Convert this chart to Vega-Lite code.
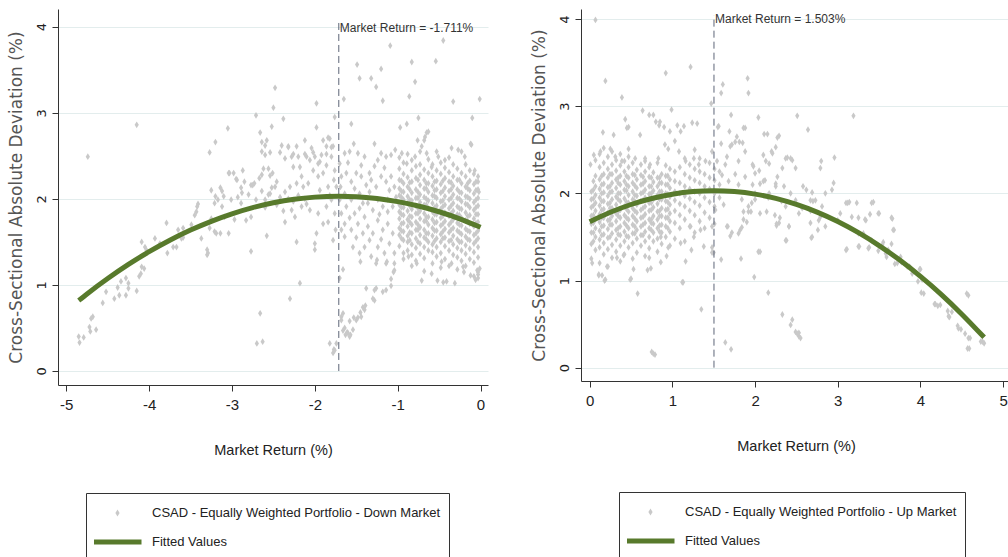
{
"$schema": "https://vega.github.io/schema/vega-lite/v6.json",
"background": "white",
"padding": {"left": 7, "top": 9, "right": 0, "bottom": 0},
"spacing": 39,
"config": {
"view": {"stroke": null},
"axis": {"domainColor": "#333", "tickColor": "#333", "tickSize": 6, "labelColor": "#222", "titleColor": "#222", "titleFontWeight": "normal", "gridColor": "#e3eded", "labelFlush": false},
"axisX": {"labelFont": "Liberation Sans", "labelFontSize": 15, "titleFont": "Liberation Sans", "titleFontSize": 14.5, "labelPadding": 6, "titlePadding": 31, "grid": false},
"axisY": {"labelFont": "DejaVu Sans", "labelFontSize": 13, "labelAngle": 270, "labelAlign": "center", "labelBaseline": "bottom", "labelPadding": 4, "titleFont": "DejaVu Sans", "titleFontSize": 17, "titleColor": "#555", "titlePadding": 10, "grid": true},
"legend": {"orient": "none", "direction": "vertical", "labelFont": "Liberation Sans", "labelFontSize": 13, "labelColor": "#222", "labelLimit": 500, "clipHeight": 24, "padding": 8}
},
"datasets": {
"downfit": [{"ret":-4.85,"csad":0.819},{"ret":-4.75,"csad":0.895},{"ret":-4.5,"csad":1.074},{"ret":-4.25,"csad":1.238},{"ret":-4.0,"csad":1.386},{"ret":-3.75,"csad":1.519},{"ret":-3.5,"csad":1.637},{"ret":-3.25,"csad":1.739},{"ret":-3.0,"csad":1.826},{"ret":-2.75,"csad":1.898},{"ret":-2.5,"csad":1.954},{"ret":-2.25,"csad":1.995},{"ret":-2.0,"csad":2.02},{"ret":-1.711,"csad":2.03},{"ret":-1.5,"csad":2.025},{"ret":-1.25,"csad":2.004},{"ret":-1.0,"csad":1.968},{"ret":-0.75,"csad":1.917},{"ret":-0.5,"csad":1.85},{"ret":-0.25,"csad":1.768},{"ret":0,"csad":1.67}],
"upfit": [{"ret":0,"csad":1.674},{"ret":0.25,"csad":1.783},{"ret":0.5,"csad":1.872},{"ret":0.75,"csad":1.941},{"ret":1.0,"csad":1.99},{"ret":1.25,"csad":2.02},{"ret":1.503,"csad":2.03},{"ret":1.75,"csad":2.02},{"ret":2.0,"csad":1.991},{"ret":2.25,"csad":1.942},{"ret":2.5,"csad":1.873},{"ret":2.75,"csad":1.785},{"ret":3.0,"csad":1.677},{"ret":3.25,"csad":1.549},{"ret":3.5,"csad":1.401},{"ret":3.75,"csad":1.234},{"ret":4.0,"csad":1.047},{"ret":4.25,"csad":0.841},{"ret":4.5,"csad":0.614},{"ret":4.77,"csad":0.348}],
"down": [
{"ret":-4.85,"csad":0.4},{"ret":-4.84,"csad":0.33},{"ret":-4.79,"csad":0.39},{"ret":-4.72,"csad":0.51},{"ret":-4.7,"csad":0.61},{"ret":-4.68,"csad":0.63},{"ret":-4.71,"csad":0.46},{"ret":-4.64,"csad":0.48},{"ret":-4.56,"csad":0.79},{"ret":-4.52,"csad":0.92},{"ret":-4.42,"csad":0.84},{"ret":-4.38,"csad":0.97},{"ret":-4.36,"csad":0.88},{"ret":-4.34,"csad":1.04},{"ret":-4.28,"csad":1.08},{"ret":-4.25,"csad":0.96},{"ret":-4.25,"csad":1.02},{"ret":-4.15,"csad":0.93},{"ret":-4.12,"csad":1.1},{"ret":-4.1,"csad":1.13},{"ret":-4.06,"csad":1.19},{"ret":-4.05,"csad":1.44},{"ret":-4.09,"csad":1.5},{"ret":-4.03,"csad":1.4},{"ret":-3.93,"csad":1.54},{"ret":-3.87,"csad":1.48},{"ret":-3.79,"csad":1.72},{"ret":-3.78,"csad":1.37},{"ret":-3.71,"csad":1.44},{"ret":-3.67,"csad":1.44},{"ret":-3.61,"csad":1.54},{"ret":-3.59,"csad":1.66},{"ret":-3.49,"csad":1.7},{"ret":-3.45,"csad":1.81},{"ret":-3.43,"csad":1.85},{"ret":-3.42,"csad":1.91},{"ret":-3.37,"csad":1.54},{"ret":-3.3,"csad":1.41},{"ret":-3.3,"csad":1.35},{"ret":-3.27,"csad":1.66},{"ret":-3.25,"csad":1.77},{"ret":-3.21,"csad":1.62},{"ret":-3.14,"csad":1.6},{"ret":-3.04,"csad":1.6},{"ret":-2.97,"csad":1.76},{"ret":-2.83,"csad":1.75},{"ret":-2.77,"csad":1.39},{"ret":-2.7,"csad":0.32},{"ret":-2.63,"csad":0.34},{"ret":-2.66,"csad":0.67},{"ret":-2.58,"csad":1.57},{"ret":-2.6,"csad":1.9},{"ret":-4.28,"csad":0.88},{"ret":-4.09,"csad":1.21},{"ret":-3.65,"csad":1.64},{"ret":-3.59,"csad":1.55},{"ret":-3.41,"csad":1.94},{"ret":-3.29,"csad":1.37},{"ret":-3.19,"csad":1.6},{"ret":-3.04,"csad":2.3},{"ret":-2.98,"csad":2.3},{"ret":-2.94,"csad":2.22},{"ret":-2.87,"csad":2.33},{"ret":-2.85,"csad":2.2},{"ret":-2.77,"csad":2.16},{"ret":-2.73,"csad":2.18},{"ret":-2.64,"csad":2.28},{"ret":-2.62,"csad":2.35},{"ret":-2.71,"csad":1.99},{"ret":-2.77,"csad":1.79},{"ret":-3.25,"csad":2.1},{"ret":-3.17,"csad":1.99},{"ret":-3.21,"csad":1.95},{"ret":-3.12,"csad":1.91},{"ret":-3.01,"csad":1.99},{"ret":-2.93,"csad":2.02},{"ret":-2.89,"csad":1.95},{"ret":-3.09,"csad":1.79},
{"ret":-4.74,"csad":2.49},{"ret":-4.15,"csad":2.86},{"ret":-3.27,"csad":2.54},{"ret":-3.2,"csad":2.66},{"ret":-3.05,"csad":2.82},{"ret":-2.71,"csad":2.97},{"ret":-2.66,"csad":2.77},{"ret":-2.64,"csad":2.66},{"ret":-2.6,"csad":2.62},{"ret":-2.64,"csad":2.55},{"ret":-2.54,"csad":2.54},{"ret":-2.52,"csad":2.84},{"ret":-3.03,"csad":2.3},{"ret":-2.95,"csad":2.23},{"ret":-2.89,"csad":2.13},{"ret":-2.75,"csad":2.16},{"ret":-2.67,"csad":2.24},{"ret":-2.54,"csad":2.27},{"ret":-2.64,"csad":2.09},{"ret":-3.14,"csad":2.13},{"ret":-3.12,"csad":2.09},{"ret":-3.1,"csad":2.03},{"ret":-3.2,"csad":2.03},{"ret":-2.8,"csad":2.05},{"ret":-2.88,"csad":2.07},{"ret":-2.52,"csad":2.13},{"ret":-2.56,"csad":2.05},
{"ret":-0.45,"csad":3.84},{"ret":-1.09,"csad":3.78},{"ret":-1.49,"csad":3.56},{"ret":-1.2,"csad":3.51},{"ret":-0.83,"csad":3.59},{"ret":-0.54,"csad":3.6},{"ret":-1.46,"csad":3.4},{"ret":-1.32,"csad":3.4},{"ret":-0.79,"csad":3.36},{"ret":-1.26,"csad":3.3},{"ret":-0.86,"csad":3.19},{"ret":-0.33,"csad":3.13},{"ret":-0.01,"csad":3.16},{"ret":-1.18,"csad":3.14},{"ret":-1.65,"csad":3.16},{"ret":-2.48,"csad":3.29},{"ret":-2.5,"csad":3.06},{"ret":-1.98,"csad":3.11},{"ret":-1.76,"csad":2.95},{"ret":-1.56,"csad":2.87},{"ret":-2.38,"csad":2.93},{"ret":-0.97,"csad":2.83},{"ret":-0.89,"csad":2.87},{"ret":-0.75,"csad":2.94},{"ret":-0.1,"csad":2.94},{"ret":-0.65,"csad":2.77},{"ret":-0.68,"csad":2.68},{"ret":-0.12,"csad":2.64},{"ret":-0.63,"csad":2.78},{"ret":-0.67,"csad":2.72},{"ret":-0.76,"csad":2.68},{"ret":-1.98,"csad":2.83},
{"ret":-2.58,"csad":2.68},{"ret":-2.6,"csad":2.51},{"ret":-2.56,"csad":2.35},{"ret":-2.51,"csad":2.3},{"ret":-2.46,"csad":2.2},{"ret":-2.4,"csad":2.62},{"ret":-2.36,"csad":2.47},{"ret":-2.32,"csad":2.61},{"ret":-2.28,"csad":2.49},{"ret":-2.26,"csad":2.37},{"ret":-2.22,"csad":2.61},{"ret":-2.2,"csad":2.49},{"ret":-2.18,"csad":2.37},{"ret":-2.16,"csad":2.26},{"ret":-2.12,"csad":2.68},{"ret":-2.1,"csad":2.49},{"ret":-2.04,"csad":2.59},{"ret":-2.0,"csad":2.49},{"ret":-1.96,"csad":2.41},{"ret":-1.92,"csad":2.51},{"ret":-1.86,"csad":2.61},{"ret":-1.82,"csad":2.7},{"ret":-1.78,"csad":2.61},{"ret":-1.8,"csad":2.49},{"ret":-1.86,"csad":2.39},{"ret":-1.9,"csad":2.3},{"ret":-1.96,"csad":2.26},{"ret":-2.02,"csad":2.33},{"ret":-2.08,"csad":2.18},{"ret":-2.14,"csad":2.14},{"ret":-2.22,"csad":2.18},{"ret":-2.3,"csad":2.14},{"ret":-2.36,"csad":2.08},{"ret":-2.42,"csad":2.02},{"ret":-2.48,"csad":2.14},{"ret":-2.54,"csad":2.06},{"ret":-2.6,"csad":1.99},{"ret":-2.36,"csad":1.73},{"ret":-2.22,"csad":1.5},{"ret":-2.18,"csad":1.02},{"ret":-2.3,"csad":0.84},{"ret":-2.0,"csad":1.48},{"ret":-2.0,"csad":1.41},{"ret":-1.98,"csad":1.6},{"ret":-1.96,"csad":1.83},{"ret":-2.06,"csad":1.87},{"ret":-2.16,"csad":1.91},{"ret":-2.24,"csad":1.79},{"ret":-2.28,"csad":1.87},{"ret":-1.9,"csad":1.71},{"ret":-1.86,"csad":1.91},{"ret":-1.8,"csad":1.99},{"ret":-1.76,"csad":1.83},{"ret":-1.84,"csad":1.73},{"ret":-1.78,"csad":1.52},{"ret":-1.75,"csad":1.64},{"ret":-1.94,"csad":2.1},{"ret":-1.84,"csad":2.14},{"ret":-1.77,"csad":2.22},{"ret":-1.76,"csad":2.33},{"ret":-1.82,"csad":2.04},{"ret":-2.42,"csad":2.54},{"ret":-2.32,"csad":2.6},{"ret":-2.26,"csad":2.52},{"ret":-2.12,"csad":2.52},{"ret":-2.06,"csad":2.45},{"ret":-2.02,"csad":2.54},{"ret":-1.94,"csad":2.43},{"ret":-1.86,"csad":2.52},{"ret":-1.8,"csad":2.6},{"ret":-1.84,"csad":2.71},{"ret":-1.9,"csad":2.68},{"ret":-2.46,"csad":1.93},{"ret":-2.38,"csad":1.86},{"ret":-2.32,"csad":2.0},{"ret":-2.26,"csad":1.97},{"ret":-2.2,"csad":2.04},{"ret":-2.12,"csad":2.0},{"ret":-2.1,"csad":1.94},
{"ret":-1.7,"csad":2.41},{"ret":-1.64,"csad":2.53},{"ret":-1.58,"csad":2.55},{"ret":-1.53,"csad":2.64},{"ret":-1.48,"csad":2.53},{"ret":-1.44,"csad":2.39},{"ret":-1.4,"csad":2.49},{"ret":-1.34,"csad":2.3},{"ret":-1.28,"csad":2.64},{"ret":-1.24,"csad":2.45},{"ret":-1.2,"csad":2.53},{"ret":-1.14,"csad":2.49},{"ret":-1.08,"csad":2.51},{"ret":-1.03,"csad":2.57},{"ret":-1.68,"csad":2.26},{"ret":-1.62,"csad":2.3},{"ret":-1.56,"csad":2.2},{"ret":-1.5,"csad":2.3},{"ret":-1.44,"csad":2.26},{"ret":-1.38,"csad":2.16},{"ret":-1.32,"csad":2.22},{"ret":-1.26,"csad":2.14},{"ret":-1.2,"csad":2.26},{"ret":-1.14,"csad":2.2},{"ret":-1.08,"csad":2.26},{"ret":-1.04,"csad":2.14},{"ret":-1.69,"csad":2.14},{"ret":-1.64,"csad":2.06},{"ret":-1.56,"csad":1.99},{"ret":-1.62,"csad":1.91},{"ret":-1.68,"csad":1.83},{"ret":-1.52,"csad":1.83},{"ret":-1.46,"csad":1.89},{"ret":-1.4,"csad":1.79},{"ret":-1.36,"csad":1.95},{"ret":-1.3,"csad":1.87},{"ret":-1.24,"csad":1.99},{"ret":-1.18,"csad":1.91},{"ret":-1.12,"csad":1.99},{"ret":-1.06,"csad":1.91},{"ret":-1.02,"csad":2.02},{"ret":-1.64,"csad":1.71},{"ret":-1.56,"csad":1.64},{"ret":-1.48,"csad":1.71},{"ret":-1.42,"csad":1.6},{"ret":-1.36,"csad":1.68},{"ret":-1.3,"csad":1.6},{"ret":-1.24,"csad":1.75},{"ret":-1.18,"csad":1.64},{"ret":-1.12,"csad":1.71},{"ret":-1.06,"csad":1.6},{"ret":-1.64,"csad":1.56},{"ret":-1.68,"csad":1.64},{"ret":-1.54,"csad":1.44},{"ret":-1.46,"csad":1.37},{"ret":-1.4,"csad":1.44},{"ret":-1.32,"csad":1.33},{"ret":-1.24,"csad":1.44},{"ret":-1.16,"csad":1.37},{"ret":-1.1,"csad":1.48},{"ret":-1.04,"csad":1.37},{"ret":-1.26,"csad":1.25},{"ret":-1.14,"csad":1.25},{"ret":-1.04,"csad":1.25},{"ret":-1.7,"csad":1.99},{"ret":-1.74,"csad":2.14},{"ret":-1.6,"csad":2.42},{"ret":-1.52,"csad":2.12},{"ret":-1.46,"csad":2.06},{"ret":-1.34,"csad":2.08},{"ret":-1.28,"csad":2.38},{"ret":-1.16,"csad":2.36},{"ret":-1.1,"csad":2.1},{"ret":-1.5,"csad":1.55},{"ret":-1.34,"csad":1.52},{"ret":-1.2,"csad":1.53},{"ret":-1.12,"csad":1.85},{"ret":-1.58,"csad":1.78},{"ret":-1.42,"csad":1.95},{"ret":-1.22,"csad":1.82},
{"ret":-1.82,"csad":0.32},{"ret":-1.78,"csad":0.21},{"ret":-1.77,"csad":0.25},{"ret":-1.68,"csad":0.63},{"ret":-1.66,"csad":0.47},{"ret":-1.63,"csad":0.42},{"ret":-1.61,"csad":0.45},{"ret":-1.57,"csad":0.42},{"ret":-1.58,"csad":0.58},{"ret":-1.53,"csad":0.62},{"ret":-1.48,"csad":0.62},{"ret":-1.45,"csad":0.68},{"ret":-1.42,"csad":0.74},{"ret":-1.39,"csad":0.76},{"ret":-1.38,"csad":0.96},{"ret":-1.3,"csad":0.84},{"ret":-1.28,"csad":0.94},{"ret":-1.26,"csad":0.96},{"ret":-1.18,"csad":0.92},{"ret":-1.08,"csad":0.99},{"ret":-1.08,"csad":1.07},{"ret":-1.05,"csad":1.15},{"ret":-1.66,"csad":1.18},{"ret":-1.7,"csad":1.08},{"ret":-0.71,"csad":1.05},{"ret":-0.52,"csad":1.05},{"ret":-0.45,"csad":1.03},{"ret":-0.06,"csad":1.06},{"ret":-0.03,"csad":1.12},{"ret":-0.2,"csad":1.15},{"ret":-0.01,"csad":1.19},{"ret":-1.45,"csad":1.27},{"ret":-1.25,"csad":1.29},{"ret":-1.13,"csad":1.27},{"ret":-1.74,"csad":0.32},{"ret":-1.76,"csad":0.24},{"ret":-1.68,"csad":0.59},{"ret":-1.64,"csad":0.5},{"ret":-1.6,"csad":0.44},{"ret":-1.54,"csad":0.48},{"ret":-1.5,"csad":0.59},{"ret":-1.44,"csad":0.63},{"ret":-1.4,"csad":0.71},{"ret":-1.28,"csad":0.82},{"ret":-1.14,"csad":0.94},{"ret":-1.04,"csad":1.17},{"ret":-1.66,"csad":0.67},{"ret":-1.58,"csad":0.4},
{"ret":-0.03,"csad":1.08},{"ret":-0.04,"csad":1.17},{"ret":-0.12,"csad":1.11},{"ret":-0.21,"csad":1.21},{"ret":-0.31,"csad":1.02},{"ret":-0.41,"csad":1.04},{"ret":-0.59,"csad":1.13},{"ret":-0.47,"csad":1.27},{"ret":-0.35,"csad":1.25},{"ret":-0.77,"csad":1.25},{"ret":-0.87,"csad":1.33},{"ret":-0.93,"csad":1.37},{"ret":-0.11,"csad":2.63},{"ret":-0.19,"csad":2.49},{"ret":-0.27,"csad":2.57},{"ret":-0.35,"csad":2.59},{"ret":-0.43,"csad":2.45},{"ret":-0.51,"csad":2.49},{"ret":-0.59,"csad":2.37},{"ret":-0.65,"csad":2.53},{"ret":-0.71,"csad":2.61},{"ret":-0.79,"csad":2.49},{"ret":-0.89,"csad":2.41},{"ret":-0.95,"csad":2.53},{"ret":-0.03,"csad":2.26},{"ret":-0.07,"csad":2.33},{"ret":-0.02,"csad":2.08},
{"ret":-0.98,"csad":1.45},{"ret":-0.98,"csad":1.58},{"ret":-0.98,"csad":1.66},{"ret":-0.98,"csad":1.77},{"ret":-0.98,"csad":1.85},{"ret":-0.98,"csad":1.93},{"ret":-0.98,"csad":2.04},{"ret":-0.98,"csad":2.12},{"ret":-0.98,"csad":2.22},{"ret":-0.98,"csad":2.35},{"ret":-0.98,"csad":2.48},
{"ret":-0.93,"csad":1.3},{"ret":-0.93,"csad":1.52},{"ret":-0.93,"csad":1.62},{"ret":-0.93,"csad":1.72},{"ret":-0.93,"csad":1.81},{"ret":-0.93,"csad":1.9},{"ret":-0.93,"csad":1.99},{"ret":-0.93,"csad":2.08},{"ret":-0.93,"csad":2.18},{"ret":-0.93,"csad":2.29},{"ret":-0.93,"csad":2.42},
{"ret":-0.88,"csad":1.4},{"ret":-0.88,"csad":1.5},{"ret":-0.88,"csad":1.57},{"ret":-0.88,"csad":1.68},{"ret":-0.88,"csad":1.76},{"ret":-0.88,"csad":1.86},{"ret":-0.88,"csad":1.95},{"ret":-0.88,"csad":2.03},{"ret":-0.88,"csad":2.14},{"ret":-0.88,"csad":2.25},{"ret":-0.88,"csad":2.52},
{"ret":-0.83,"csad":1.22},{"ret":-0.83,"csad":1.35},{"ret":-0.83,"csad":1.47},{"ret":-0.83,"csad":1.6},{"ret":-0.83,"csad":1.7},{"ret":-0.83,"csad":1.79},{"ret":-0.83,"csad":1.88},{"ret":-0.83,"csad":1.98},{"ret":-0.83,"csad":2.07},{"ret":-0.83,"csad":2.2},{"ret":-0.83,"csad":2.33},{"ret":-0.83,"csad":2.45},
{"ret":-0.78,"csad":1.28},{"ret":-0.78,"csad":1.43},{"ret":-0.78,"csad":1.54},{"ret":-0.78,"csad":1.64},{"ret":-0.78,"csad":1.73},{"ret":-0.78,"csad":1.83},{"ret":-0.78,"csad":1.92},{"ret":-0.78,"csad":2.01},{"ret":-0.78,"csad":2.11},{"ret":-0.78,"csad":2.24},{"ret":-0.78,"csad":2.38},
{"ret":-0.73,"csad":1.36},{"ret":-0.73,"csad":1.48},{"ret":-0.73,"csad":1.58},{"ret":-0.73,"csad":1.67},{"ret":-0.73,"csad":1.77},{"ret":-0.73,"csad":1.86},{"ret":-0.73,"csad":1.96},{"ret":-0.73,"csad":2.05},{"ret":-0.73,"csad":2.16},{"ret":-0.73,"csad":2.28},{"ret":-0.73,"csad":2.4},{"ret":-0.73,"csad":2.55},
{"ret":-0.68,"csad":1.16},{"ret":-0.68,"csad":1.31},{"ret":-0.68,"csad":1.44},{"ret":-0.68,"csad":1.55},{"ret":-0.68,"csad":1.64},{"ret":-0.68,"csad":1.74},{"ret":-0.68,"csad":1.83},{"ret":-0.68,"csad":1.93},{"ret":-0.68,"csad":2.02},{"ret":-0.68,"csad":2.12},{"ret":-0.68,"csad":2.22},{"ret":-0.68,"csad":2.34},
{"ret":-0.63,"csad":1.4},{"ret":-0.63,"csad":1.5},{"ret":-0.63,"csad":1.6},{"ret":-0.63,"csad":1.7},{"ret":-0.63,"csad":1.79},{"ret":-0.63,"csad":1.89},{"ret":-0.63,"csad":1.98},{"ret":-0.63,"csad":2.08},{"ret":-0.63,"csad":2.18},{"ret":-0.63,"csad":2.3},{"ret":-0.63,"csad":2.46},
{"ret":-0.58,"csad":1.25},{"ret":-0.58,"csad":1.38},{"ret":-0.58,"csad":1.47},{"ret":-0.58,"csad":1.57},{"ret":-0.58,"csad":1.66},{"ret":-0.58,"csad":1.76},{"ret":-0.58,"csad":1.85},{"ret":-0.58,"csad":1.95},{"ret":-0.58,"csad":2.04},{"ret":-0.58,"csad":2.15},{"ret":-0.58,"csad":2.26},{"ret":-0.58,"csad":2.4},
{"ret":-0.53,"csad":1.33},{"ret":-0.53,"csad":1.44},{"ret":-0.53,"csad":1.54},{"ret":-0.53,"csad":1.63},{"ret":-0.53,"csad":1.73},{"ret":-0.53,"csad":1.82},{"ret":-0.53,"csad":1.92},{"ret":-0.53,"csad":2.01},{"ret":-0.53,"csad":2.11},{"ret":-0.53,"csad":2.21},{"ret":-0.53,"csad":2.33},{"ret":-0.53,"csad":2.55},
{"ret":-0.48,"csad":1.2},{"ret":-0.48,"csad":1.37},{"ret":-0.48,"csad":1.5},{"ret":-0.48,"csad":1.59},{"ret":-0.48,"csad":1.69},{"ret":-0.48,"csad":1.78},{"ret":-0.48,"csad":1.88},{"ret":-0.48,"csad":1.97},{"ret":-0.48,"csad":2.07},{"ret":-0.48,"csad":2.17},{"ret":-0.48,"csad":2.29},{"ret":-0.48,"csad":2.42},
{"ret":-0.43,"csad":1.3},{"ret":-0.43,"csad":1.45},{"ret":-0.43,"csad":1.55},{"ret":-0.43,"csad":1.65},{"ret":-0.43,"csad":1.74},{"ret":-0.43,"csad":1.84},{"ret":-0.43,"csad":1.93},{"ret":-0.43,"csad":2.03},{"ret":-0.43,"csad":2.13},{"ret":-0.43,"csad":2.24},{"ret":-0.43,"csad":2.36},
{"ret":-0.38,"csad":1.22},{"ret":-0.38,"csad":1.4},{"ret":-0.38,"csad":1.51},{"ret":-0.38,"csad":1.61},{"ret":-0.38,"csad":1.7},{"ret":-0.38,"csad":1.8},{"ret":-0.38,"csad":1.89},{"ret":-0.38,"csad":1.99},{"ret":-0.38,"csad":2.09},{"ret":-0.38,"csad":2.2},{"ret":-0.38,"csad":2.31},{"ret":-0.38,"csad":2.48},
{"ret":-0.33,"csad":1.35},{"ret":-0.33,"csad":1.47},{"ret":-0.33,"csad":1.57},{"ret":-0.33,"csad":1.66},{"ret":-0.33,"csad":1.76},{"ret":-0.33,"csad":1.86},{"ret":-0.33,"csad":1.95},{"ret":-0.33,"csad":2.05},{"ret":-0.33,"csad":2.15},{"ret":-0.33,"csad":2.26},{"ret":-0.33,"csad":2.4},
{"ret":-0.28,"csad":1.18},{"ret":-0.28,"csad":1.32},{"ret":-0.28,"csad":1.43},{"ret":-0.28,"csad":1.53},{"ret":-0.28,"csad":1.63},{"ret":-0.28,"csad":1.72},{"ret":-0.28,"csad":1.82},{"ret":-0.28,"csad":1.91},{"ret":-0.28,"csad":2.01},{"ret":-0.28,"csad":2.11},{"ret":-0.28,"csad":2.22},{"ret":-0.28,"csad":2.35},
{"ret":-0.23,"csad":1.28},{"ret":-0.23,"csad":1.4},{"ret":-0.23,"csad":1.5},{"ret":-0.23,"csad":1.59},{"ret":-0.23,"csad":1.69},{"ret":-0.23,"csad":1.78},{"ret":-0.23,"csad":1.88},{"ret":-0.23,"csad":1.97},{"ret":-0.23,"csad":2.07},{"ret":-0.23,"csad":2.18},{"ret":-0.23,"csad":2.3},{"ret":-0.23,"csad":2.55},
{"ret":-0.18,"csad":1.22},{"ret":-0.18,"csad":1.36},{"ret":-0.18,"csad":1.46},{"ret":-0.18,"csad":1.56},{"ret":-0.18,"csad":1.65},{"ret":-0.18,"csad":1.75},{"ret":-0.18,"csad":1.84},{"ret":-0.18,"csad":1.94},{"ret":-0.18,"csad":2.03},{"ret":-0.18,"csad":2.14},{"ret":-0.18,"csad":2.26},{"ret":-0.18,"csad":2.4},
{"ret":-0.13,"csad":1.3},{"ret":-0.13,"csad":1.42},{"ret":-0.13,"csad":1.52},{"ret":-0.13,"csad":1.62},{"ret":-0.13,"csad":1.71},{"ret":-0.13,"csad":1.81},{"ret":-0.13,"csad":1.9},{"ret":-0.13,"csad":2.0},{"ret":-0.13,"csad":2.1},{"ret":-0.13,"csad":2.21},{"ret":-0.13,"csad":2.33},
{"ret":-0.08,"csad":1.1},{"ret":-0.08,"csad":1.26},{"ret":-0.08,"csad":1.38},{"ret":-0.08,"csad":1.48},{"ret":-0.08,"csad":1.58},{"ret":-0.08,"csad":1.68},{"ret":-0.08,"csad":1.77},{"ret":-0.08,"csad":1.87},{"ret":-0.08,"csad":1.96},{"ret":-0.08,"csad":2.06},{"ret":-0.08,"csad":2.17},{"ret":-0.08,"csad":2.29},
{"ret":-0.03,"csad":1.15},{"ret":-0.03,"csad":1.32},{"ret":-0.03,"csad":1.44},{"ret":-0.03,"csad":1.54},{"ret":-0.03,"csad":1.63},{"ret":-0.03,"csad":1.73},{"ret":-0.03,"csad":1.82},{"ret":-0.03,"csad":1.92},{"ret":-0.03,"csad":2.01},{"ret":-0.03,"csad":2.11},{"ret":-0.03,"csad":2.2},
{"ret":-0.955,"csad":1.54},{"ret":-0.955,"csad":1.63},{"ret":-0.955,"csad":1.71},{"ret":-0.955,"csad":1.82},{"ret":-0.955,"csad":1.9},{"ret":-0.955,"csad":2.02},{"ret":-0.955,"csad":2.09},{"ret":-0.955,"csad":2.21},
{"ret":-0.855,"csad":1.52},{"ret":-0.855,"csad":1.61},{"ret":-0.855,"csad":1.73},{"ret":-0.855,"csad":1.8},{"ret":-0.855,"csad":1.92},{"ret":-0.855,"csad":1.99},{"ret":-0.855,"csad":2.11},{"ret":-0.855,"csad":2.19},
{"ret":-0.755,"csad":1.5},{"ret":-0.755,"csad":1.64},{"ret":-0.755,"csad":1.7},{"ret":-0.755,"csad":1.83},{"ret":-0.755,"csad":1.89},{"ret":-0.755,"csad":2.01},{"ret":-0.755,"csad":2.08},{"ret":-0.755,"csad":2.22},
{"ret":-0.655,"csad":1.53},{"ret":-0.655,"csad":1.6},{"ret":-0.655,"csad":1.74},{"ret":-0.655,"csad":1.79},{"ret":-0.655,"csad":1.93},{"ret":-0.655,"csad":2.0},{"ret":-0.655,"csad":2.12},{"ret":-0.655,"csad":2.18},
{"ret":-0.555,"csad":1.51},{"ret":-0.555,"csad":1.63},{"ret":-0.555,"csad":1.72},{"ret":-0.555,"csad":1.82},{"ret":-0.555,"csad":1.9},{"ret":-0.555,"csad":2.03},{"ret":-0.555,"csad":2.1},{"ret":-0.555,"csad":2.2},
{"ret":-0.455,"csad":1.54},{"ret":-0.455,"csad":1.62},{"ret":-0.455,"csad":1.71},{"ret":-0.455,"csad":1.8},{"ret":-0.455,"csad":1.91},{"ret":-0.455,"csad":1.98},{"ret":-0.455,"csad":2.09},{"ret":-0.455,"csad":2.21},
{"ret":-0.355,"csad":1.52},{"ret":-0.355,"csad":1.64},{"ret":-0.355,"csad":1.73},{"ret":-0.355,"csad":1.83},{"ret":-0.355,"csad":1.92},{"ret":-0.355,"csad":2.01},{"ret":-0.355,"csad":2.11},{"ret":-0.355,"csad":2.19},
{"ret":-0.255,"csad":1.5},{"ret":-0.255,"csad":1.61},{"ret":-0.255,"csad":1.7},{"ret":-0.255,"csad":1.81},{"ret":-0.255,"csad":1.89},{"ret":-0.255,"csad":2.0},{"ret":-0.255,"csad":2.08},{"ret":-0.255,"csad":2.22},
{"ret":-0.155,"csad":1.53},{"ret":-0.155,"csad":1.63},{"ret":-0.155,"csad":1.74},{"ret":-0.155,"csad":1.8},{"ret":-0.155,"csad":1.93},{"ret":-0.155,"csad":2.02},{"ret":-0.155,"csad":2.12},{"ret":-0.155,"csad":2.18},
{"ret":-0.055,"csad":1.51},{"ret":-0.055,"csad":1.6},{"ret":-0.055,"csad":1.72},{"ret":-0.055,"csad":1.82},{"ret":-0.055,"csad":1.9},{"ret":-0.055,"csad":1.99},{"ret":-0.055,"csad":2.1},{"ret":-0.055,"csad":2.2}
],
"up": [
{"ret":0.07,"csad":3.99},{"ret":0.19,"csad":3.29},{"ret":0.39,"csad":3.1},{"ret":0.92,"csad":3.38},{"ret":1.22,"csad":3.45},{"ret":0.99,"csad":2.96},{"ret":0.64,"csad":2.95},{"ret":0.77,"csad":2.9},{"ret":1.47,"csad":3.03},{"ret":1.61,"csad":3.25},{"ret":1.59,"csad":3.15},{"ret":1.91,"csad":3.32},{"ret":1.92,"csad":3.15},{"ret":1.71,"csad":2.9},{"ret":2.04,"csad":2.87},{"ret":2.51,"csad":2.89},{"ret":3.19,"csad":2.89},{"ret":2.64,"csad":2.73},{"ret":1.56,"csad":2.77},{"ret":1.3,"csad":2.8},{"ret":1.14,"csad":2.77},{"ret":0.9,"csad":2.76},{"ret":0.85,"csad":2.82},{"ret":0.43,"csad":2.85},{"ret":0.47,"csad":2.76},{"ret":0.16,"csad":2.7},{"ret":0.29,"csad":2.67},{"ret":0.61,"csad":2.67},{"ret":2.15,"csad":2.68},{"ret":2.29,"csad":2.66},{"ret":1.88,"csad":2.75},{"ret":1.78,"csad":2.65},{"ret":1.81,"csad":2.59},{"ret":1.85,"csad":2.58},{"ret":2.25,"csad":2.53},{"ret":2.21,"csad":2.46},{"ret":2.1,"csad":2.44},{"ret":1.7,"csad":2.54},{"ret":1.59,"csad":2.57},{"ret":1.66,"csad":2.42},{"ret":1.98,"csad":2.31},{"ret":2.0,"csad":2.23},{"ret":2.17,"csad":2.34},{"ret":2.39,"csad":2.41},{"ret":2.45,"csad":2.38},{"ret":2.49,"csad":2.29},{"ret":2.33,"csad":2.29},{"ret":2.96,"csad":2.41},{"ret":2.8,"csad":2.37},{"ret":2.79,"csad":2.29},{"ret":2.95,"csad":2.12},{"ret":2.85,"csad":2.0},{"ret":2.93,"csad":2.04},{"ret":2.69,"csad":2.01},{"ret":2.58,"csad":2.08},{"ret":2.62,"csad":2.04},{"ret":2.67,"csad":1.92},{"ret":2.73,"csad":1.92},{"ret":2.81,"csad":1.85},{"ret":2.67,"csad":1.8},{"ret":2.79,"csad":1.73},{"ret":2.69,"csad":1.5},{"ret":2.37,"csad":1.46},{"ret":2.53,"csad":1.77},{"ret":2.29,"csad":1.66},{"ret":2.26,"csad":1.65},{"ret":2.41,"csad":1.62},{"ret":2.37,"csad":1.85},{"ret":2.49,"csad":1.92},{"ret":2.43,"csad":2.0},{"ret":2.35,"csad":2.08},{"ret":2.25,"csad":2.11},{"ret":2.17,"csad":2.0},{"ret":2.12,"csad":2.15},{"ret":2.06,"csad":2.11},{"ret":2.0,"csad":2.0},{"ret":1.96,"csad":1.89},{"ret":1.92,"csad":1.79},{"ret":1.86,"csad":1.79},{"ret":1.9,"csad":1.67},{"ret":1.82,"csad":1.58},{"ret":2.04,"csad":1.33},{"ret":1.99,"csad":1.04},{"ret":2.16,"csad":0.86},{"ret":2.33,"csad":0.61},{"ret":2.45,"csad":0.55},{"ret":2.43,"csad":0.49},{"ret":2.49,"csad":0.41},{"ret":2.53,"csad":0.36},{"ret":2.51,"csad":0.39},{"ret":1.64,"csad":0.29},{"ret":1.71,"csad":0.21},{"ret":1.35,"csad":0.67},{"ret":0.75,"csad":0.18},{"ret":0.79,"csad":0.15},{"ret":0.77,"csad":0.16},{"ret":1.13,"csad":0.98},{"ret":0.58,"csad":0.85},{"ret":0.49,"csad":1.01},{"ret":0.19,"csad":1.01},{"ret":0.11,"csad":1.06},{"ret":0.15,"csad":1.06},{"ret":0.21,"csad":1.16},{"ret":1.59,"csad":1.24},{"ret":1.83,"csad":1.25},{"ret":1.48,"csad":1.32},{"ret":1.48,"csad":1.38},{"ret":1.67,"csad":1.62},{"ret":1.7,"csad":1.51},{"ret":1.8,"csad":1.54},{"ret":3.11,"csad":1.36},{"ret":3.25,"csad":1.39},{"ret":3.38,"csad":1.38},{"ret":3.25,"csad":1.54},{"ret":3.12,"csad":1.89},{"ret":3.23,"csad":1.89},{"ret":3.41,"csad":1.89},{"ret":3.5,"csad":1.77},{"ret":3.34,"csad":1.69},{"ret":3.17,"csad":1.73},{"ret":3.03,"csad":1.77},{"ret":3.0,"csad":1.69},{"ret":3.31,"csad":1.54},{"ret":3.41,"csad":1.46},{"ret":3.54,"csad":1.41},{"ret":3.58,"csad":1.31},{"ret":3.66,"csad":1.71},{"ret":3.68,"csad":1.58},{"ret":3.61,"csad":1.35},{"ret":3.76,"csad":1.27},{"ret":3.72,"csad":1.2},{"ret":3.84,"csad":1.16},{"ret":3.9,"csad":1.08},{"ret":4.0,"csad":1.13},{"ret":4.02,"csad":1.01},{"ret":4.04,"csad":0.85},{"ret":4.18,"csad":0.73},{"ret":4.24,"csad":0.72},{"ret":4.34,"csad":0.59},{"ret":4.38,"csad":0.64},{"ret":4.46,"csad":0.45},{"ret":4.54,"csad":0.39},{"ret":4.58,"csad":0.83},{"ret":4.59,"csad":0.22},{"ret":4.6,"csad":0.34},{"ret":4.75,"csad":0.3},{"ret":4.77,"csad":0.28},
{"ret":2.57,"csad":1.83},{"ret":2.67,"csad":1.66},{"ret":2.68,"csad":1.49},{"ret":2.7,"csad":1.91},{"ret":2.76,"csad":1.58},{"ret":2.77,"csad":1.69},{"ret":2.85,"csad":1.62},{"ret":3.1,"csad":1.89},{"ret":3.14,"csad":1.9},{"ret":3.43,"csad":1.9},{"ret":3.25,"csad":1.72},{"ret":3.33,"csad":1.7},{"ret":3.39,"csad":1.76},{"ret":3.49,"csad":1.77},{"ret":3.65,"csad":1.72},{"ret":3.67,"csad":1.58},{"ret":3.65,"csad":1.42},{"ret":3.49,"csad":1.34},{"ret":3.55,"csad":1.44},{"ret":3.59,"csad":1.27},{"ret":3.69,"csad":1.19},{"ret":3.77,"csad":1.21},{"ret":3.87,"csad":1.16},{"ret":3.99,"csad":1.13},{"ret":3.97,"csad":0.99},{"ret":4.01,"csad":0.86},{"ret":4.17,"csad":0.73},{"ret":4.21,"csad":0.71},{"ret":4.33,"csad":0.65},{"ret":4.35,"csad":0.58},{"ret":4.45,"csad":0.48},{"ret":4.49,"csad":0.44},{"ret":4.56,"csad":0.85},{"ret":4.58,"csad":0.34},{"ret":4.57,"csad":0.22},{"ret":4.73,"csad":0.3},{"ret":3.1,"csad":1.35},{"ret":3.26,"csad":1.39},{"ret":3.37,"csad":1.37},{"ret":2.53,"csad":0.4},{"ret":2.55,"csad":0.34},
{"ret":0.03,"csad":1.2},{"ret":0.11,"csad":1.07},{"ret":0.18,"csad":1.0},{"ret":0.5,"csad":1.02},{"ret":0.53,"csad":1.13},{"ret":0.7,"csad":1.12},{"ret":0.74,"csad":1.14},{"ret":0.72,"csad":1.26},{"ret":0.86,"csad":1.21},{"ret":0.93,"csad":1.28},{"ret":1.16,"csad":1.22},{"ret":1.12,"csad":0.98},{"ret":1.23,"csad":1.35},{"ret":1.5,"csad":1.32},{"ret":2.06,"csad":1.33},{"ret":0.33,"csad":1.26},{"ret":0.41,"csad":1.29},{"ret":1.1,"csad":1.43},{"ret":0.95,"csad":1.38},{"ret":0.86,"csad":1.5},
{"ret":0.72,"csad":2.9},{"ret":0.45,"csad":2.75},{"ret":0.8,"csad":2.82},{"ret":0.84,"csad":2.78},{"ret":1.06,"csad":2.78},{"ret":1.1,"csad":2.71},{"ret":1.24,"csad":2.81},{"ret":0.97,"csad":2.71},{"ret":0.91,"csad":2.56},{"ret":1.03,"csad":2.6},{"ret":1.55,"csad":2.76},{"ret":1.69,"csad":2.71},{"ret":1.76,"csad":2.59},{"ret":1.86,"csad":2.75},{"ret":2.11,"csad":2.68},{"ret":2.27,"csad":2.64},{"ret":2.37,"csad":2.4},
{"ret":0.05,"csad":2.44},{"ret":0.01,"csad":2.33},{"ret":0.13,"csad":2.48},{"ret":0.25,"csad":2.51},{"ret":0.31,"csad":2.42},{"ret":0.39,"csad":2.37},{"ret":0.47,"csad":2.51},{"ret":0.55,"csad":2.4},{"ret":0.67,"csad":2.37},{"ret":0.73,"csad":2.33},{"ret":0.83,"csad":2.4},{"ret":0.95,"csad":2.51},{"ret":1.08,"csad":2.48},{"ret":1.16,"csad":2.37},{"ret":1.26,"csad":2.4},{"ret":1.32,"csad":2.33},{"ret":1.4,"csad":2.37},{"ret":1.48,"csad":2.48},{"ret":1.54,"csad":2.37},{"ret":1.64,"csad":2.33},{"ret":1.72,"csad":2.56},{"ret":1.8,"csad":2.37},{"ret":1.88,"csad":2.48},{"ret":1.97,"csad":2.33},{"ret":2.05,"csad":2.26},{"ret":2.13,"csad":2.37},{"ret":2.2,"csad":2.48},{"ret":2.27,"csad":2.19},{"ret":2.43,"csad":2.4},{"ret":1.88,"csad":2.19},{"ret":1.76,"csad":2.22},{"ret":1.68,"csad":2.14},{"ret":1.6,"csad":2.21},{"ret":1.8,"csad":2.1},{"ret":1.97,"csad":2.1},{"ret":2.1,"csad":2.14},{"ret":2.25,"csad":2.08},
{"ret":1.52,"csad":1.81},{"ret":1.62,"csad":1.87},{"ret":1.66,"csad":1.62},{"ret":1.72,"csad":1.55},{"ret":1.84,"csad":1.61},{"ret":1.86,"csad":1.7},{"ret":1.95,"csad":1.79},{"ret":2.06,"csad":1.77},{"ret":2.14,"csad":1.79},{"ret":2.24,"csad":1.75},{"ret":2.26,"csad":1.63},{"ret":2.38,"csad":1.46},{"ret":2.41,"csad":1.62},{"ret":2.3,"csad":1.72},{"ret":1.92,"csad":1.85},{"ret":1.84,"csad":1.93},{"ret":2.0,"csad":1.93},{"ret":2.16,"csad":1.95},{"ret":2.32,"csad":1.91},{"ret":2.48,"csad":1.89},{"ret":1.48,"csad":1.62},{"ret":1.34,"csad":1.58},{"ret":1.26,"csad":1.5},{"ret":1.38,"csad":1.39},{"ret":1.22,"csad":1.62},
{"ret":0.02,"csad":1.25},{"ret":0.02,"csad":1.42},{"ret":0.02,"csad":1.55},{"ret":0.02,"csad":1.65},{"ret":0.02,"csad":1.74},{"ret":0.02,"csad":1.84},{"ret":0.02,"csad":1.93},{"ret":0.02,"csad":2.02},
{"ret":0.07,"csad":1.35},{"ret":0.07,"csad":1.5},{"ret":0.07,"csad":1.6},{"ret":0.07,"csad":1.7},{"ret":0.07,"csad":1.8},{"ret":0.07,"csad":1.89},{"ret":0.07,"csad":1.98},{"ret":0.07,"csad":2.08},{"ret":0.07,"csad":2.2},{"ret":0.07,"csad":2.38},
{"ret":0.12,"csad":1.2},{"ret":0.12,"csad":1.38},{"ret":0.12,"csad":1.47},{"ret":0.12,"csad":1.57},{"ret":0.12,"csad":1.67},{"ret":0.12,"csad":1.76},{"ret":0.12,"csad":1.86},{"ret":0.12,"csad":1.95},{"ret":0.12,"csad":2.05},{"ret":0.12,"csad":2.16},{"ret":0.12,"csad":2.3},{"ret":0.12,"csad":2.45},
{"ret":0.17,"csad":1.3},{"ret":0.17,"csad":1.43},{"ret":0.17,"csad":1.53},{"ret":0.17,"csad":1.63},{"ret":0.17,"csad":1.72},{"ret":0.17,"csad":1.82},{"ret":0.17,"csad":1.91},{"ret":0.17,"csad":2.01},{"ret":0.17,"csad":2.11},{"ret":0.17,"csad":2.22},{"ret":0.17,"csad":2.35},{"ret":0.17,"csad":2.52},
{"ret":0.22,"csad":1.16},{"ret":0.22,"csad":1.36},{"ret":0.22,"csad":1.49},{"ret":0.22,"csad":1.59},{"ret":0.22,"csad":1.69},{"ret":0.22,"csad":1.78},{"ret":0.22,"csad":1.88},{"ret":0.22,"csad":1.97},{"ret":0.22,"csad":2.07},{"ret":0.22,"csad":2.18},{"ret":0.22,"csad":2.28},{"ret":0.22,"csad":2.42},
{"ret":0.27,"csad":1.26},{"ret":0.27,"csad":1.41},{"ret":0.27,"csad":1.54},{"ret":0.27,"csad":1.64},{"ret":0.27,"csad":1.74},{"ret":0.27,"csad":1.83},{"ret":0.27,"csad":1.93},{"ret":0.27,"csad":2.02},{"ret":0.27,"csad":2.12},{"ret":0.27,"csad":2.22},{"ret":0.27,"csad":2.33},{"ret":0.27,"csad":2.48},
{"ret":0.32,"csad":1.33},{"ret":0.32,"csad":1.47},{"ret":0.32,"csad":1.58},{"ret":0.32,"csad":1.68},{"ret":0.32,"csad":1.77},{"ret":0.32,"csad":1.87},{"ret":0.32,"csad":1.96},{"ret":0.32,"csad":2.06},{"ret":0.32,"csad":2.16},{"ret":0.32,"csad":2.26},{"ret":0.32,"csad":2.38},
{"ret":0.37,"csad":1.22},{"ret":0.37,"csad":1.4},{"ret":0.37,"csad":1.52},{"ret":0.37,"csad":1.62},{"ret":0.37,"csad":1.72},{"ret":0.37,"csad":1.81},{"ret":0.37,"csad":1.91},{"ret":0.37,"csad":2.0},{"ret":0.37,"csad":2.1},{"ret":0.37,"csad":2.2},{"ret":0.37,"csad":2.32},{"ret":0.37,"csad":2.45},
{"ret":0.42,"csad":1.3},{"ret":0.42,"csad":1.45},{"ret":0.42,"csad":1.56},{"ret":0.42,"csad":1.66},{"ret":0.42,"csad":1.75},{"ret":0.42,"csad":1.85},{"ret":0.42,"csad":1.94},{"ret":0.42,"csad":2.04},{"ret":0.42,"csad":2.14},{"ret":0.42,"csad":2.25},{"ret":0.42,"csad":2.37},
{"ret":0.47,"csad":1.38},{"ret":0.47,"csad":1.5},{"ret":0.47,"csad":1.6},{"ret":0.47,"csad":1.7},{"ret":0.47,"csad":1.79},{"ret":0.47,"csad":1.89},{"ret":0.47,"csad":1.98},{"ret":0.47,"csad":2.08},{"ret":0.47,"csad":2.18},{"ret":0.47,"csad":2.3},{"ret":0.47,"csad":2.42},
{"ret":0.52,"csad":1.25},{"ret":0.52,"csad":1.43},{"ret":0.52,"csad":1.54},{"ret":0.52,"csad":1.64},{"ret":0.52,"csad":1.74},{"ret":0.52,"csad":1.83},{"ret":0.52,"csad":1.93},{"ret":0.52,"csad":2.02},{"ret":0.52,"csad":2.12},{"ret":0.52,"csad":2.22},{"ret":0.52,"csad":2.35},
{"ret":0.57,"csad":1.32},{"ret":0.57,"csad":1.48},{"ret":0.57,"csad":1.58},{"ret":0.57,"csad":1.68},{"ret":0.57,"csad":1.78},{"ret":0.57,"csad":1.87},{"ret":0.57,"csad":1.97},{"ret":0.57,"csad":2.06},{"ret":0.57,"csad":2.16},{"ret":0.57,"csad":2.27},
{"ret":0.62,"csad":1.4},{"ret":0.62,"csad":1.52},{"ret":0.62,"csad":1.62},{"ret":0.62,"csad":1.72},{"ret":0.62,"csad":1.81},{"ret":0.62,"csad":1.91},{"ret":0.62,"csad":2.0},{"ret":0.62,"csad":2.1},{"ret":0.62,"csad":2.21},{"ret":0.62,"csad":2.33},
{"ret":0.67,"csad":1.28},{"ret":0.67,"csad":1.45},{"ret":0.67,"csad":1.56},{"ret":0.67,"csad":1.66},{"ret":0.67,"csad":1.76},{"ret":0.67,"csad":1.85},{"ret":0.67,"csad":1.95},{"ret":0.67,"csad":2.04},{"ret":0.67,"csad":2.14},{"ret":0.67,"csad":2.25},{"ret":0.67,"csad":2.4},
{"ret":0.72,"csad":1.37},{"ret":0.72,"csad":1.5},{"ret":0.72,"csad":1.6},{"ret":0.72,"csad":1.7},{"ret":0.72,"csad":1.8},{"ret":0.72,"csad":1.89},{"ret":0.72,"csad":1.99},{"ret":0.72,"csad":2.08},{"ret":0.72,"csad":2.19},{"ret":0.72,"csad":2.3},
{"ret":0.77,"csad":1.45},{"ret":0.77,"csad":1.55},{"ret":0.77,"csad":1.65},{"ret":0.77,"csad":1.74},{"ret":0.77,"csad":1.84},{"ret":0.77,"csad":1.93},{"ret":0.77,"csad":2.03},{"ret":0.77,"csad":2.13},{"ret":0.77,"csad":2.24},
{"ret":0.82,"csad":1.33},{"ret":0.82,"csad":1.48},{"ret":0.82,"csad":1.6},{"ret":0.82,"csad":1.7},{"ret":0.82,"csad":1.79},{"ret":0.82,"csad":1.88},{"ret":0.82,"csad":1.98},{"ret":0.82,"csad":2.08},{"ret":0.82,"csad":2.18},{"ret":0.82,"csad":2.35},
{"ret":0.87,"csad":1.42},{"ret":0.87,"csad":1.55},{"ret":0.87,"csad":1.64},{"ret":0.87,"csad":1.74},{"ret":0.87,"csad":1.83},{"ret":0.87,"csad":1.93},{"ret":0.87,"csad":2.02},{"ret":0.87,"csad":2.12},{"ret":0.87,"csad":2.22},
{"ret":0.92,"csad":1.5},{"ret":0.92,"csad":1.62},{"ret":0.92,"csad":1.72},{"ret":0.92,"csad":1.81},{"ret":0.92,"csad":1.91},{"ret":0.92,"csad":2.0},{"ret":0.92,"csad":2.1},{"ret":0.92,"csad":2.2},{"ret":0.92,"csad":2.32},
{"ret":0.97,"csad":1.4},{"ret":0.97,"csad":1.56},{"ret":0.97,"csad":1.68},{"ret":0.97,"csad":1.77},{"ret":0.97,"csad":1.87},{"ret":0.97,"csad":1.96},{"ret":0.97,"csad":2.06},{"ret":0.97,"csad":2.16},{"ret":0.97,"csad":2.28},
{"ret":1.03,"csad":1.48},{"ret":1.03,"csad":1.66},{"ret":1.03,"csad":1.8},{"ret":1.03,"csad":1.92},{"ret":1.03,"csad":2.02},{"ret":1.03,"csad":2.14},{"ret":1.03,"csad":2.25},
{"ret":1.09,"csad":1.6},{"ret":1.09,"csad":1.75},{"ret":1.09,"csad":1.88},{"ret":1.09,"csad":2.0},{"ret":1.09,"csad":2.12},{"ret":1.09,"csad":2.3},
{"ret":1.15,"csad":1.45},{"ret":1.15,"csad":1.7},{"ret":1.15,"csad":1.85},{"ret":1.15,"csad":1.97},{"ret":1.15,"csad":2.08},{"ret":1.15,"csad":2.22},{"ret":1.15,"csad":2.4},
{"ret":1.21,"csad":1.62},{"ret":1.21,"csad":1.8},{"ret":1.21,"csad":1.94},{"ret":1.21,"csad":2.05},{"ret":1.21,"csad":2.18},{"ret":1.21,"csad":2.33},
{"ret":1.27,"csad":1.55},{"ret":1.27,"csad":1.75},{"ret":1.27,"csad":1.9},{"ret":1.27,"csad":2.02},{"ret":1.27,"csad":2.15},{"ret":1.27,"csad":2.28},{"ret":1.27,"csad":2.5},
{"ret":1.33,"csad":1.68},{"ret":1.33,"csad":1.86},{"ret":1.33,"csad":2.0},{"ret":1.33,"csad":2.12},{"ret":1.33,"csad":2.25},{"ret":1.33,"csad":2.4},
{"ret":1.39,"csad":1.6},{"ret":1.39,"csad":1.78},{"ret":1.39,"csad":1.95},{"ret":1.39,"csad":2.08},{"ret":1.39,"csad":2.22},
{"ret":1.45,"csad":1.72},{"ret":1.45,"csad":1.9},{"ret":1.45,"csad":2.05},{"ret":1.45,"csad":2.18},{"ret":1.45,"csad":2.35},
{"ret":1.51,"csad":1.65},{"ret":1.51,"csad":1.85},{"ret":1.51,"csad":2.0},{"ret":1.51,"csad":2.15},{"ret":1.51,"csad":2.28},
{"ret":1.57,"csad":1.95},{"ret":1.57,"csad":2.1},{"ret":1.57,"csad":2.25},
{"ret":0.045,"csad":1.45},{"ret":0.045,"csad":1.55},{"ret":0.045,"csad":1.66},{"ret":0.045,"csad":1.75},{"ret":0.045,"csad":1.86},{"ret":0.045,"csad":1.94},{"ret":0.045,"csad":2.04},{"ret":0.045,"csad":2.14},
{"ret":0.145,"csad":1.52},{"ret":0.145,"csad":1.62},{"ret":0.145,"csad":1.72},{"ret":0.145,"csad":1.81},{"ret":0.145,"csad":1.91},{"ret":0.145,"csad":2.0},{"ret":0.145,"csad":2.1},{"ret":0.145,"csad":2.2},
{"ret":0.245,"csad":1.5},{"ret":0.245,"csad":1.64},{"ret":0.245,"csad":1.7},{"ret":0.245,"csad":1.83},{"ret":0.245,"csad":1.89},{"ret":0.245,"csad":2.01},{"ret":0.245,"csad":2.08},{"ret":0.245,"csad":2.22},
{"ret":0.345,"csad":1.53},{"ret":0.345,"csad":1.6},{"ret":0.345,"csad":1.74},{"ret":0.345,"csad":1.79},{"ret":0.345,"csad":1.93},{"ret":0.345,"csad":2.0},{"ret":0.345,"csad":2.12},{"ret":0.345,"csad":2.18},
{"ret":0.445,"csad":1.51},{"ret":0.445,"csad":1.63},{"ret":0.445,"csad":1.72},{"ret":0.445,"csad":1.82},{"ret":0.445,"csad":1.9},{"ret":0.445,"csad":2.03},{"ret":0.445,"csad":2.1},{"ret":0.445,"csad":2.2},
{"ret":0.545,"csad":1.54},{"ret":0.545,"csad":1.62},{"ret":0.545,"csad":1.71},{"ret":0.545,"csad":1.8},{"ret":0.545,"csad":1.91},{"ret":0.545,"csad":1.98},{"ret":0.545,"csad":2.09},{"ret":0.545,"csad":2.21},
{"ret":0.645,"csad":1.52},{"ret":0.645,"csad":1.64},{"ret":0.645,"csad":1.73},{"ret":0.645,"csad":1.83},{"ret":0.645,"csad":1.92},{"ret":0.645,"csad":2.01},{"ret":0.645,"csad":2.11},{"ret":0.645,"csad":2.19},
{"ret":0.745,"csad":1.58},{"ret":0.745,"csad":1.66},{"ret":0.745,"csad":1.7},{"ret":0.745,"csad":1.81},{"ret":0.745,"csad":1.89},{"ret":0.745,"csad":2.0},{"ret":0.745,"csad":2.08},{"ret":0.745,"csad":2.18},
{"ret":0.845,"csad":1.56},{"ret":0.845,"csad":1.63},{"ret":0.845,"csad":1.74},{"ret":0.845,"csad":1.8},{"ret":0.845,"csad":1.93},{"ret":0.845,"csad":2.02},{"ret":0.845,"csad":2.12},{"ret":0.845,"csad":2.18},
{"ret":0.945,"csad":1.6},{"ret":0.945,"csad":1.72},{"ret":0.945,"csad":1.82},{"ret":0.945,"csad":1.9},{"ret":0.945,"csad":1.99},{"ret":0.945,"csad":2.1},{"ret":0.945,"csad":2.2}
]
},
"hconcat": [
{
"width": 430, "height": 376,
"layer": [
{"data": {"name": "down"}, "mark": {"type": "point", "filled": true, "size": 46, "opacity": 1, "strokeWidth": 0, "color": "#c9c9c9"},
"encoding": {
"x": {"field": "ret", "type": "quantitative", "title": "Market Return (%)", "scale": {"domain": [-5.1, 0.09], "nice": false, "zero": false}, "axis": {"values": [-5, -4, -3, -2, -1, 0], "labelExpr": "'' + datum.value"}},
"y": {"field": "csad", "type": "quantitative", "title": "Cross-Sectional Absolute Deviation (%)", "scale": {"domain": [-0.163, 4.206], "nice": false, "zero": false}, "axis": {"values": [0, 1, 2, 3, 4], "labelExpr": "'' + datum.value"}},
"shape": {"datum": "CSAD - Equally Weighted Portfolio - Down Market", "type": "nominal", "scale": {"range": ["M0,-1L0.62,0L0,1L-0.62,0Z"]},
"legend": {"legendX": 28, "legendY": 484, "title": " ", "titleOrient": "bottom", "titleFontSize": 30, "titlePadding": 4, "strokeColor": "#333", "fillColor": "transparent", "symbolSize": 46, "symbolStrokeWidth": 0, "symbolFillColor": "#c9c9c9", "symbolOffset": 17, "labelOffset": 28, "labelExpr": "datum.label + '\u00a0\u00a0\u00a0\u00a0\u00a0\u00a0\u00a0\u00a0\u00a0\u00a0'"}}
}},
{"data": {"values": [{"ret": -1.711}]}, "mark": {"type": "rule", "color": "#5d6577", "strokeWidth": 1, "strokeDash": [7, 4]},
"encoding": {"x": {"field": "ret", "type": "quantitative", "title": "Market Return (%)"}, "y": {"datum": 0, "type": "quantitative"}, "y2": {"datum": 4.05}}},
{"data": {"name": "downfit"}, "mark": {"type": "line", "strokeWidth": 5, "interpolate": "monotone"},
"encoding": {"x": {"field": "ret", "type": "quantitative", "title": "Market Return (%)"}, "y": {"field": "csad", "type": "quantitative", "title": "Cross-Sectional Absolute Deviation (%)"},
"color": {"datum": "Fitted Values", "type": "nominal", "scale": {"range": ["#587a2c"]},
"legend": {"legendX": 28, "legendY": 513, "title": null, "strokeColor": "transparent", "fillColor": "transparent", "symbolType": "stroke", "symbolSize": 2304, "symbolStrokeWidth": 5, "symbolOffset": -3, "labelOffset": 8}}}},
{"data": {"values": [{"note": "Market Return = -1.711%"}]}, "mark": {"type": "text", "align": "left", "baseline": "middle", "dx": 1, "font": "Liberation Sans", "fontSize": 12, "color": "#333"},
"encoding": {"x": {"datum": -1.711, "type": "quantitative"}, "y": {"datum": 3.98, "type": "quantitative"}, "text": {"field": "note"}}}
]
},
{
"width": 430, "height": 372,
"layer": [
{"data": {"name": "up"}, "mark": {"type": "point", "filled": true, "size": 46, "opacity": 1, "strokeWidth": 0, "color": "#c9c9c9"},
"encoding": {
"x": {"field": "ret", "type": "quantitative", "title": "Market Return (%)", "scale": {"domain": [-0.105, 5.095], "nice": false, "zero": false}, "axis": {"values": [0, 1, 2, 3, 4, 5], "labelExpr": "'' + datum.value"}},
"y": {"field": "csad", "type": "quantitative", "title": "Cross-Sectional Absolute Deviation (%)", "scale": {"domain": [-0.153, 4.115], "nice": false, "zero": false}, "axis": {"values": [0, 1, 2, 3, 4], "labelExpr": "'' + datum.value"}},
"shape": {"datum": "CSAD - Equally Weighted Portfolio - Up Market", "type": "nominal", "scale": {"range": ["M0,-1L0.62,0L0,1L-0.62,0Z"]},
"legend": {"legendX": 38, "legendY": 483, "title": " ", "titleOrient": "bottom", "titleFontSize": 30, "titlePadding": 4, "strokeColor": "#333", "fillColor": "transparent", "symbolSize": 46, "symbolStrokeWidth": 0, "symbolFillColor": "#c9c9c9", "symbolOffset": 17, "labelOffset": 28, "labelExpr": "datum.label + '\u00a0\u00a0\u00a0\u00a0\u00a0\u00a0\u00a0\u00a0\u00a0\u00a0'"}}
}},
{"data": {"values": [{"ret": 1.503}]}, "mark": {"type": "rule", "color": "#5d6577", "strokeWidth": 1, "strokeDash": [7, 4]},
"encoding": {"x": {"field": "ret", "type": "quantitative", "title": "Market Return (%)"}, "y": {"datum": 0, "type": "quantitative"}, "y2": {"datum": 4.04}}},
{"data": {"name": "upfit"}, "mark": {"type": "line", "strokeWidth": 5, "interpolate": "monotone"},
"encoding": {"x": {"field": "ret", "type": "quantitative", "title": "Market Return (%)"}, "y": {"field": "csad", "type": "quantitative", "title": "Cross-Sectional Absolute Deviation (%)"},
"color": {"datum": "Fitted Values", "type": "nominal", "scale": {"range": ["#587a2c"]},
"legend": {"legendX": 38, "legendY": 512, "title": null, "strokeColor": "transparent", "fillColor": "transparent", "symbolType": "stroke", "symbolSize": 2304, "symbolStrokeWidth": 5, "symbolOffset": -3, "labelOffset": 8}}}},
{"data": {"values": [{"note": "Market Return = 1.503%"}]}, "mark": {"type": "text", "align": "left", "baseline": "middle", "dx": 1, "font": "Liberation Sans", "fontSize": 12, "color": "#333"},
"encoding": {"x": {"datum": 1.503, "type": "quantitative"}, "y": {"datum": 4.0, "type": "quantitative"}, "text": {"field": "note"}}}
]
}
],
"resolve": {"scale": {"color": "independent", "shape": "independent"}}
}
